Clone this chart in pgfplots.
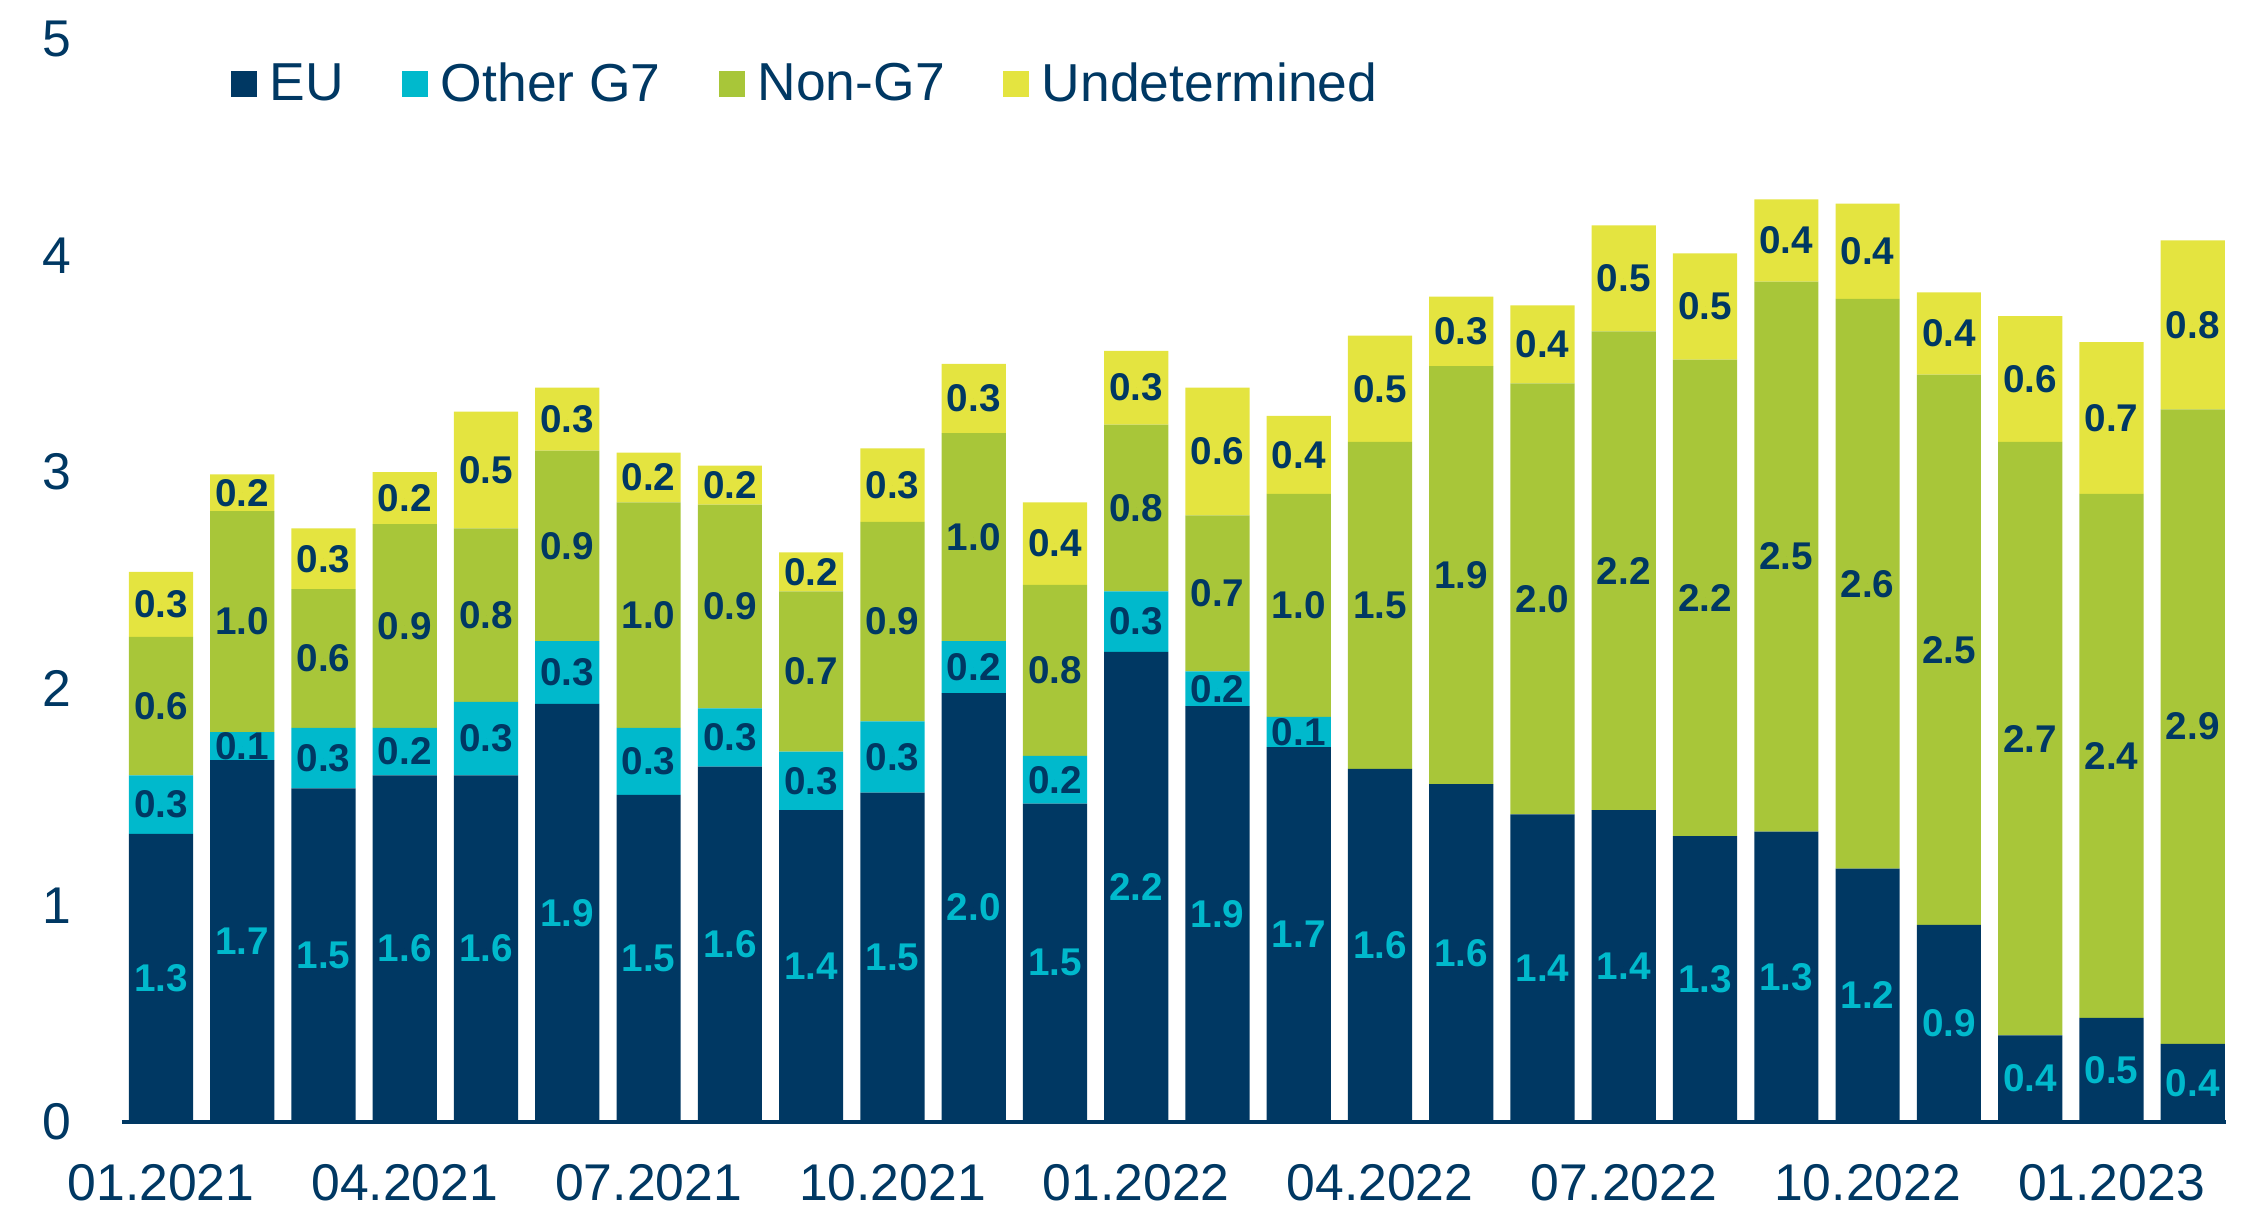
\documentclass[border=0pt]{standalone}
\usepackage{pgfplots}
\pgfplotsset{compat=1.18}
\usepackage{pgfplotstable}
\usepackage{fontspec}
\setmainfont{Liberation Sans}

\definecolor{navy}{HTML}{003863}
\definecolor{eucol}{HTML}{003863}
\definecolor{ogcol}{HTML}{00B9CC}
\definecolor{ngcol}{HTML}{A8C639}
\definecolor{uncol}{HTML}{E4E440}

% monthly values: EU, other G7, non-G7, undetermined
\pgfplotstableread{
x  eu   og   ng   un
0  1.33 0.27 0.64 0.30
1  1.67 0.13 1.02 0.17
2  1.54 0.28 0.64 0.28
3  1.60 0.22 0.94 0.24
4  1.60 0.34 0.80 0.54
5  1.93 0.29 0.88 0.29
6  1.51 0.31 1.04 0.23
7  1.64 0.27 0.94 0.18
8  1.44 0.27 0.74 0.18
9  1.52 0.33 0.92 0.34
10 1.98 0.24 0.96 0.32
11 1.47 0.22 0.79 0.38
12 2.17 0.28 0.77 0.34
13 1.92 0.16 0.72 0.59
14 1.73 0.14 1.03 0.36
15 1.63 0    1.51 0.49
16 1.56 0    1.93 0.32
17 1.42 0    1.99 0.36
18 1.44 0    2.21 0.49
19 1.32 0    2.20 0.49
20 1.34 0    2.54 0.38
21 1.17 0    2.63 0.44
22 0.91 0    2.54 0.38
23 0.40 0    2.74 0.58
24 0.48 0    2.42 0.70
25 0.36 0    2.93 0.78
}\flows

\pgfplotsset{
  frame/.style={
    scale only axis, width=210.4mm, height=108.3mm,
    xmin=-0.48, xmax=25.41, ymin=0, ymax=5,
    /pgf/number format/assume math mode=true,
  },
  lab/.style={only marks, mark=*, mark size=0pt, nodes near coords style={text=#1}},
}

\begin{document}
\begin{tikzpicture}
\begin{axis}[
  frame, name=main,
  ybar stacked, bar width=0.79,
  separate axis lines,
  axis x line*=bottom, axis y line*=left,
  x axis line style={-, navy, line width=1pt},
  y axis line style={draw=none},
  major tick length=0pt,
  xtick={0,3,...,24},
  xticklabels={01.2021,04.2021,07.2021,10.2021,01.2022,04.2022,07.2022,10.2022,01.2023},
  ytick={0,1,...,5},
  tick label style={font=\fontsize{14.7}{17}\selectfont, text=navy, inner sep=0pt},
  xticklabel style={anchor=north, yshift=-4.2mm},
  yticklabel style={anchor=east, xshift=-5mm},
  legend columns=4,
  legend style={at={(0.0513,0.958)}, anchor=west, draw=none, fill=none, inner sep=0pt,
    font=\fontsize{15.2}{18}\selectfont, text=navy,
    /tikz/every odd column/.append style={column sep=0.6mm},
    /tikz/every even column/.append style={column sep=5.1mm}},
  legend image code/.code={\fill[#1] (0mm,-1.3mm) rectangle (2.6mm,1.3mm);},
]
  \addplot[fill=eucol, draw=none] table[x=x, y=eu]{\flows};
  \addplot[fill=ogcol, draw=none] table[x=x, y=og]{\flows};
  \addplot[fill=ngcol, draw=none] table[x=x, y=ng]{\flows};
  \addplot[fill=uncol, draw=none] table[x=x, y=un]{\flows};
  \legend{EU, Other G7, Non-G7, Undetermined}
\end{axis}
\begin{axis}[
  frame, hide axis,
  point meta=explicit,
  nodes near coords={\pgfmathprintnumber[fixed, fixed zerofill, precision=1]{\pgfplotspointmeta}},
  every node near coord/.append style={anchor=center, inner sep=0pt,
    font=\bfseries\fontsize{11}{13}\selectfont},
]
  \addplot[lab=ogcol] table[x=x, y expr=\thisrow{eu}/2, meta=eu]{\flows};
  \addplot[lab=navy, skip coords between index={15}{26}]
    table[x=x, y expr=\thisrow{eu}+\thisrow{og}/2, meta=og]{\flows};
  \addplot[lab=navy] table[x=x, y expr=\thisrow{eu}+\thisrow{og}+\thisrow{ng}/2, meta=ng]{\flows};
  \addplot[lab=navy] table[x=x, y expr=\thisrow{eu}+\thisrow{og}+\thisrow{ng}+\thisrow{un}/2, meta=un]{\flows};
\end{axis}
\pgfresetboundingbox
\path[use as bounding box] ([xshift=-12.2mm,yshift=-9mm]main.south west)
  rectangle ([xshift=3.3mm,yshift=3.9mm]main.north east);
\end{tikzpicture}
\end{document}
